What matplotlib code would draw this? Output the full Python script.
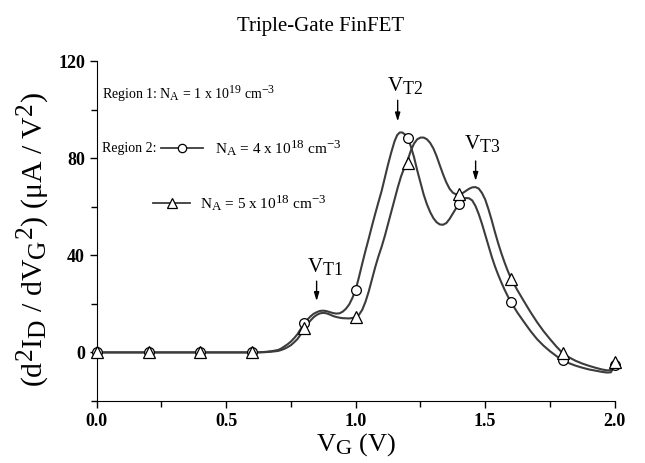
import matplotlib
matplotlib.use("Agg")
import matplotlib.pyplot as plt
import matplotlib._mathtext as _mt
from matplotlib.lines import Line2D
from matplotlib.ticker import MultipleLocator

_mt.SHRINK_FACTOR = 0.85

plt.rcParams['font.family'] = ['Liberation Serif', 'DejaVu Serif']
plt.rcParams['mathtext.fontset'] = 'custom'
plt.rcParams['mathtext.rm'] = 'Liberation Serif'
plt.rcParams['mathtext.it'] = 'Liberation Serif:italic'
plt.rcParams['mathtext.bf'] = 'Liberation Serif:bold'

# Circle series (N_A = 4e18): gate voltage and d2I/dV2
vg_c = [0.0, 0.2, 0.4, 0.6, 0.625, 0.65, 0.675, 0.70, 0.7125, 0.725, 0.7375, 0.75,
        0.7625, 0.775, 0.7875, 0.80, 0.8125, 0.825, 0.8375, 0.85, 0.8625, 0.875,
        0.8875, 0.90, 0.9125, 0.925, 0.9375, 0.95, 0.9625, 0.975, 0.9875, 1.0,
        1.0125, 1.025, 1.0375, 1.05, 1.0625, 1.075, 1.0875, 1.10, 1.1125, 1.125,
        1.1375, 1.15, 1.16, 1.17, 1.18, 1.19, 1.20, 1.2125, 1.225, 1.2375, 1.25,
        1.2625, 1.275, 1.2875, 1.30, 1.3125, 1.325, 1.3375, 1.35, 1.3625, 1.375,
        1.3875, 1.40, 1.4125, 1.425, 1.4375, 1.45, 1.4625, 1.475, 1.4875, 1.50,
        1.5125, 1.525, 1.5375, 1.55, 1.5625, 1.575, 1.5875, 1.60, 1.625, 1.65,
        1.675, 1.70, 1.725, 1.75, 1.775, 1.80, 1.825, 1.85, 1.875, 1.90, 1.925,
        1.95, 1.97, 1.985, 1.993, 2.0]
d2_c = [0, 0, 0, 0, 0.05, 0.2, 0.5, 1.0, 1.6, 2.5, 3.4, 4.5,
        5.9, 7.5, 9.6, 11.8, 13.4, 14.8, 15.9, 16.6, 17.1, 17.2,
        17.0, 16.6, 16.2, 16.0, 16.1, 16.8, 18.0, 19.8, 22.5, 25.9,
        31.0, 36.5, 41.8, 46.8, 52.0, 57.0, 61.8, 66.5, 72.0, 77.5,
        82.5, 87.0, 89.5, 90.6, 90.6, 89.8, 88.5, 85.0, 80.5, 75.0, 70.0,
        65.0, 61.0, 57.8, 55.3, 53.6, 52.7, 52.6, 53.3, 55.0, 57.2,
        59.4, 61.3, 62.8, 63.6, 63.5, 62.6, 60.3, 57.0, 53.0, 48.5,
        44.0, 39.5, 35.5, 32.0, 28.8, 25.8, 23.1, 20.6, 16.3, 12.5,
        8.8, 5.5, 2.8, 0.5, -1.5, -3.3, -4.5, -5.5, -6.3, -7.0, -7.5,
        -8.0, -8.3, -8.2, -6.8, -5.0]

# Triangle series (N_A = 5e18)
vg_t = [0.0, 0.2, 0.4, 0.6, 0.625, 0.65, 0.675, 0.70, 0.7125, 0.725, 0.7375, 0.75,
        0.7625, 0.775, 0.7875, 0.80, 0.8125, 0.825, 0.8375, 0.85, 0.8625, 0.875,
        0.8875, 0.90, 0.9125, 0.925, 0.9375, 0.95, 0.975, 1.0, 1.0125, 1.025,
        1.0375, 1.05, 1.0625, 1.075, 1.0875, 1.10, 1.1125, 1.125, 1.1375, 1.15,
        1.1625, 1.175, 1.1875, 1.20, 1.2125, 1.225, 1.2375, 1.25, 1.2625, 1.275,
        1.2875, 1.30, 1.3125, 1.325, 1.3375, 1.35, 1.3625, 1.375, 1.3875, 1.40,
        1.4125, 1.425, 1.4375, 1.45, 1.4625, 1.475, 1.4875, 1.50, 1.5125, 1.525,
        1.5375, 1.55, 1.5625, 1.575, 1.5875, 1.60, 1.625, 1.65, 1.675, 1.70,
        1.725, 1.75, 1.775, 1.80, 1.825, 1.85, 1.875, 1.90, 1.925, 1.95, 1.97,
        1.985, 1.993, 2.0]
d2_t = [0, 0, 0, 0, 0.02, 0.1, 0.3, 0.6, 1.0, 1.5, 2.2, 3.0,
        4.2, 5.5, 7.4, 9.6, 11.5, 13.1, 14.5, 15.5, 16.1, 16.3,
        16.1, 15.6, 15.0, 14.6, 14.3, 14.1, 14.0, 14.4, 15.5, 17.5,
        20.8, 25.0, 30.0, 35.0, 39.5, 43.5, 48.0, 53.0, 58.0, 63.0,
        68.0, 72.5, 76.0, 79.0, 83.0, 86.0, 87.8, 88.5, 88.5, 87.8,
        86.3, 84.0, 80.8, 77.0, 73.3, 70.0, 67.4, 65.8, 65.1, 65.1,
        65.6, 66.5, 67.4, 68.0, 68.1, 67.5, 65.7, 63.0, 59.0, 54.5,
        49.6, 45.0, 40.8, 37.0, 33.5, 30.4, 25.5, 21.0, 16.6, 12.5,
        8.8, 5.5, 2.4, -0.4, -2.1, -3.5, -4.6, -5.5, -6.3, -7.0, -7.4,
        -7.3, -5.8, -4.0]

# Marker points
vg_m = [0.0, 0.2, 0.4, 0.6, 0.8, 1.0, 1.2, 1.4, 1.6, 1.8, 2.0]
m_c = [0, 0, 0, 0, 12.3, 25.9, 88.5, 61.3, 20.6, -3.3, -5]
m_t = [0, 0, 0, 0, 9.9, 14.4, 78, 65.4, 30.4, -0.4, -4]

fig = plt.figure(figsize=(6.45, 4.63), dpi=100)
ax = fig.add_axes([0.150, 0.134, 0.803, 0.734])

lc = '#3c3c3c'
ax.plot(vg_c, d2_c, color=lc, lw=1.5, zorder=2, solid_joinstyle='round')
ax.plot(vg_t, d2_t, color=lc, lw=1.5, zorder=2, solid_joinstyle='round')
ax.plot(vg_m, m_c, ls='none', marker='o', ms=7, mfc='white', mec='black', mew=0.9,
        zorder=3, clip_on=False)
ax.plot(vg_m, m_t, ls='none', marker='^', ms=8, mfc='white', mec='black', mew=0.9,
        zorder=3, clip_on=False)

ax.set_xlim(0, 2.0)
ax.set_ylim(-20, 120)
ax.xaxis.set_minor_locator(MultipleLocator(0.25))
ax.yaxis.set_minor_locator(MultipleLocator(20))
ax.spines['top'].set_visible(False)
ax.spines['right'].set_visible(False)
ax.tick_params(which='major', direction='out', length=5, width=1, labelsize=13)
ax.tick_params(which='minor', direction='out', length=4, width=1)
ax.set_xticks([0, 0.5, 1.0, 1.5, 2.0])
ax.set_xticklabels(['0.0', '0.5', '1.0', '1.5', '2.0'], fontweight='bold')
ax.set_yticks([0, 40, 80, 120])
ax.set_yticklabels(['0', '40', '80', '120'], fontweight='bold')

ax.set_xlabel(r'V$_\mathrm{G}$ (V)', fontsize=19, labelpad=1)
ax.set_ylabel(r'(d$^2$I$_\mathrm{D}$ / dV$_\mathrm{G}$$^2$) (μA / V$^2$)', fontsize=21.5, labelpad=1)
ax.yaxis.set_label_coords(-0.086, 0.475)
fig.text(0.497, 0.942, 'Triple-Gate FinFET', ha='center', va='center', fontsize=15)

# Annotation texts
fs = 10
ax.text(0.010, 0.903, r'Region 1: N$_\mathrm{A}$ = 1 x 10$^{19}$ cm$^{-3}$', transform=ax.transAxes,
        fontsize=fs, va='center', ha='left')
ax.text(0.010, 0.744, 'Region 2:', transform=ax.transAxes, fontsize=fs, va='center', ha='left')
ax.add_line(Line2D([0.125, 0.205], [0.744, 0.744], transform=ax.transAxes, color=lc, lw=1.3))
ax.add_line(Line2D([0.165], [0.744], transform=ax.transAxes, marker='o', ms=6, mfc='white',
                   mec='black', mew=0.9, ls='none'))
ax.text(0.228, 0.744, r'N$_\mathrm{A}$ = 4 x 10$^{18}$ cm$^{-3}$', transform=ax.transAxes,
        fontsize=fs + 1, va='center', ha='left')
ax.add_line(Line2D([0.108, 0.180], [0.582, 0.582], transform=ax.transAxes, color=lc, lw=1.3))
ax.add_line(Line2D([0.145], [0.582], transform=ax.transAxes, marker='^', ms=6.5, mfc='white',
                   mec='black', mew=0.9, ls='none'))
ax.text(0.199, 0.582, r'N$_\mathrm{A}$ = 5 x 10$^{18}$ cm$^{-3}$', transform=ax.transAxes,
        fontsize=fs + 1, va='center', ha='left')

# V_T arrows
arrow = dict(arrowstyle='-|>,head_length=0.5,head_width=0.15', color='black', lw=1.0)
ax.annotate('', xy=(0.849, 20), xytext=(0.849, 30.5), arrowprops=arrow)
ax.text(0.88, 35.5, r'V$_\mathrm{T1}$', fontsize=15, ha='center', va='center')
ax.annotate('', xy=(1.162, 94), xytext=(1.162, 105), arrowprops=arrow)
ax.text(1.19, 110, r'V$_\mathrm{T2}$', fontsize=15, ha='center', va='center')
ax.annotate('', xy=(1.463, 69.5), xytext=(1.463, 80), arrowprops=arrow)
ax.text(1.49, 86, r'V$_\mathrm{T3}$', fontsize=15, ha='center', va='center')

fig.savefig('out.png', dpi=100)
